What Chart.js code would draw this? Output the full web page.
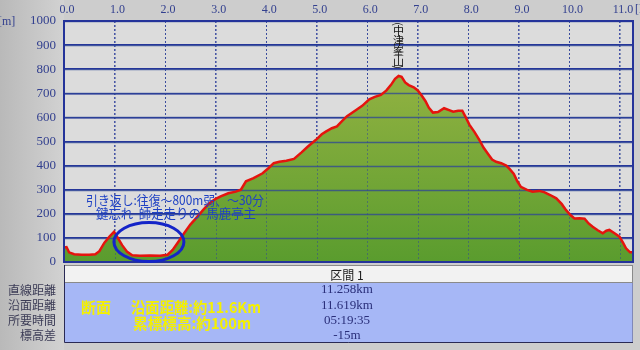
<!DOCTYPE html>
<html>
<head>
<meta charset="utf-8">
<script src="https://cdn.jsdelivr.net/npm/chart.js@4/dist/chart.umd.min.js"></script>
<style>
  html, body { margin: 0; padding: 0; background: #c9c9c9; }
  #wrap { width: 640px; height: 350px; position: relative; }
</style>
</head>
<body>
<div id="wrap"><canvas id="profile" width="640" height="350"></canvas></div>
<script>
// distance along the route (km) and elevation (m)
var distKm = [0.00, 0.05, 0.10, 0.20, 0.35, 0.50, 0.62, 0.70, 0.80, 0.90, 0.99, 1.05, 1.15, 1.25, 1.35, 1.50, 1.70, 1.90, 2.05, 2.15,
              2.25, 2.38, 2.50, 2.61, 2.75, 2.87, 3.00, 3.10, 3.25, 3.40, 3.50, 3.60, 3.75, 3.93, 4.05, 4.15, 4.26, 4.40, 4.55, 4.70,
              4.82, 4.98, 5.10, 5.18, 5.30, 5.40, 5.50, 5.60, 5.78, 5.90, 6.04, 6.15, 6.27, 6.38, 6.47, 6.55, 6.62, 6.68, 6.75, 6.82,
              6.92, 7.00, 7.08, 7.15, 7.22, 7.30, 7.40, 7.52, 7.62, 7.70, 7.80, 7.88, 7.95, 8.02, 8.12, 8.22, 8.30, 8.38, 8.47, 8.55,
              8.65, 8.75, 8.82, 8.90, 8.97, 9.04, 9.15, 9.27, 9.40, 9.50, 9.62, 9.74, 9.85, 9.93, 10.02, 10.10, 10.20, 10.30, 10.38, 10.46,
              10.56, 10.66, 10.73, 10.79, 10.90, 10.99, 11.06, 11.12, 11.20, 11.258];
var elevM  = [60, 62, 40, 32, 30, 30, 32, 45, 80, 105, 125, 105, 70, 42, 28, 26, 27, 26, 30, 50,
              80, 120, 155, 181, 215, 243, 262, 272, 285, 292, 300, 335, 348, 368, 390, 410, 416, 420, 428, 455,
              478, 506, 530, 541, 555, 563, 585, 605, 631, 648, 675, 685, 693, 712, 735, 760, 772, 768, 745, 734,
              725, 712, 690, 668, 640, 620, 622, 638, 630, 624, 628, 628, 600, 570, 540, 506, 475, 451, 425, 416,
              410, 400, 385, 365, 335, 312, 300, 292, 295, 290, 278, 264, 240, 216, 195, 181, 182, 180, 160, 146,
              132, 119, 130, 133, 118, 105, 80, 57, 40, 40];

var xTicks = [0, 1, 2, 3, 4, 5, 6, 7, 8, 9, 10, 11];
var tableRowLabels = ["直線距離", "沿面距離", "所要時間", "標高差"];
var tableValues = ["11.258km", "11.619km", "05:19:35", "-15m"];
var sectionTitle = "区間 1";
var noteLines = ["引き返し:往復～800m弱、～30分", "鍵忘れ  師走走りの  馬鹿亭主"];
var summaryLines = ["沿面距離:約11.6Km", "累標標高:約100m"];
var peakName = "中津峯山";

var points = distKm.map(function (d, i) { return { x: d, y: elevM[i] }; });

var NAVY = '#24339a';
var TICK = '#33408f';

var decor = {
  id: 'decor',
  beforeDraw: function (chart) {
    var c = chart.ctx, a = chart.chartArea;
    c.save();
    var g = c.createLinearGradient(0, 0, a.left, 0);
    g.addColorStop(0, '#b9b9b9');
    g.addColorStop(1, '#d2d2d2');
    c.fillStyle = '#cdcdcd';
    c.fillRect(0, 0, chart.width, chart.height);
    c.fillStyle = g;
    c.fillRect(0, 0, a.left, chart.height);
    c.fillStyle = '#dcdcdc';
    c.fillRect(a.left, a.top, a.right - a.left, a.bottom - a.top);
    c.restore();
  },
  beforeDatasetDraw: function (chart) {
    // grid lines show through the green fill
    var c = chart.ctx, a = chart.chartArea;
    var xs = chart.scales.x, ys = chart.scales.y;
    c.save();
    c.beginPath();
    c.rect(a.left, a.top, a.right - a.left, a.bottom - a.top);
    c.clip();
    c.strokeStyle = 'rgba(45,70,150,0.75)';
    c.lineWidth = 1.5;
    ys.ticks.forEach(function (t) {
      var y = Math.round(ys.getPixelForValue(t.value)) + 0.5;
      c.beginPath(); c.moveTo(a.left, y); c.lineTo(a.right, y); c.stroke();
    });
    c.lineWidth = 1;
    c.setLineDash([2, 2]);
    c.strokeStyle = 'rgba(45,70,150,0.5)';
    xs.ticks.forEach(function (t) {
      var x = Math.round(xs.getPixelForValue(t.value)) + 0.5;
      c.beginPath(); c.moveTo(x, a.top); c.lineTo(x, a.bottom); c.stroke();
    });
    c.restore();
  },
  afterDraw: function (chart) {
    var c = chart.ctx, a = chart.chartArea;
    var xs = chart.scales.x, ys = chart.scales.y;
    c.save();

    // plot frame
    c.strokeStyle = NAVY;
    c.lineWidth = 2;
    c.strokeRect(a.left, a.top, a.right - a.left, a.bottom - a.top);

    // unit labels
    c.fillStyle = TICK;
    c.font = '12px "Liberation Serif"';
    c.textBaseline = 'middle';
    c.textAlign = 'left';
    c.fillText('[m]', -2, 22);
    c.fillText('[km]', 635, 10);

    // peak name, written vertically
    var px = xs.getPixelForValue(6.62);
    c.fillStyle = '#111';
    c.font = '11px "Noto Sans CJK JP"';
    c.textAlign = 'center';
    c.save(); c.translate(px, 24); c.rotate(Math.PI / 2); c.fillText('(', 0, 0); c.restore();
    for (var i = 0; i < peakName.length; i++) {
      c.fillText(peakName[i], px, 31 + i * 10.3);
    }
    c.save(); c.translate(px, 67); c.rotate(Math.PI / 2); c.fillText(')', 0, 0); c.restore();

    // turn-back note
    c.fillStyle = '#1f42c4';
    c.font = '13px "Noto Sans CJK JP"';
    c.textAlign = 'left';
    c.fillText(noteLines[0], 86, 200, 178);
    c.fillText(noteLines[1], 96, 213, 160);

    // ellipse around the doubled-back section
    c.strokeStyle = '#1424c8';
    c.lineWidth = 3;
    c.beginPath();
    c.ellipse(xs.getPixelForValue(1.68), ys.getPixelForValue(83), 35, 19.5, 0, 0, Math.PI * 2);
    c.stroke();

    // table under the plot
    var tl = a.left, tr = a.right;
    c.fillStyle = '#f2f2f2';
    c.fillRect(tl, 265, tr - tl, 18);
    c.fillStyle = '#a6b7f6';
    c.fillRect(tl, 283, tr - tl, 59);
    c.strokeStyle = '#8a8a8a';
    c.lineWidth = 1;
    c.strokeRect(tl + 0.5, 265.5, tr - tl - 1, 17);
    c.strokeStyle = '#2a2a55';
    c.beginPath();
    c.moveTo(tl + 0.5, 265); c.lineTo(tl + 0.5, 342.5); c.lineTo(tr, 342.5);
    c.stroke();
    c.strokeStyle = '#8088b8';
    c.beginPath(); c.moveTo(tr - 0.5, 283); c.lineTo(tr - 0.5, 342); c.stroke();

    c.fillStyle = '#222';
    c.font = '12px "Noto Sans CJK JP"';
    c.textAlign = 'center';
    c.fillText(sectionTitle, 347, 275);

    c.fillStyle = '#3b3b55';
    c.textAlign = 'right';
    c.font = '12px "Noto Sans CJK JP"';
    tableRowLabels.forEach(function (s, k) { c.fillText(s, 56, 290 + k * 15.2); });

    c.fillStyle = '#2a2f7a';
    c.textAlign = 'center';
    c.font = '13px "Liberation Serif"';
    tableValues.forEach(function (s, k) { c.fillText(s, 347, 290 + k * 15.2); });

    c.fillStyle = '#f4f000';
    c.font = 'bold 15px "Noto Sans CJK JP"';
    c.textAlign = 'left';
    c.fillText('断面', 81, 307);
    c.fillText(summaryLines[0], 131, 307, 130);
    c.fillText(summaryLines[1], 133, 323, 118);

    c.restore();
  }
};

var ctx = document.getElementById('profile').getContext('2d');
var chart = new Chart(ctx, {
  type: 'line',
  data: {
    datasets: [{
      data: points,
      borderColor: '#e5140e',
      borderWidth: 2.5,
      pointRadius: 0,
      tension: 0,
      fill: 'origin',
      backgroundColor: function (context) {
        var a = context.chart.chartArea;
        if (!a) return '#6fa336';
        var g = context.chart.ctx.createLinearGradient(0, a.top + 70, 0, a.bottom);
        g.addColorStop(0, '#8db040');
        g.addColorStop(0.5, '#74a637');
        g.addColorStop(1, '#5a9c2e');
        return g;
      }
    }]
  },
  options: {
    responsive: false,
    animation: false,
    layout: { padding: { top: 0, left: 0, right: 7, bottom: 88 } },
    plugins: { legend: { display: false }, tooltip: { enabled: false } },
    scales: {
      x: {
        type: 'linear',
        position: 'top',
        min: 0,
        max: 11.258,
        afterFit: function (s) { s.height = 21; },
        afterBuildTicks: function (s) {
          s.ticks = xTicks.map(function (v) { return { value: v }; });
        },
        ticks: {
          padding: 4,
          labelOffset: 3,
          color: TICK,
          font: { family: 'Liberation Serif', size: 12 },
          callback: function (v) { return Number(v).toFixed(1); }
        },
        grid: { color: 'rgba(36,51,154,0.8)', lineWidth: 1, drawTicks: false },
        border: { display: false, dash: [2, 2] }
      },
      y: {
        min: 0,
        max: 1000,
        afterFit: function (s) { s.width = 64; },
        ticks: {
          stepSize: 100,
          padding: 8,
          color: TICK,
          font: { family: 'Liberation Serif', size: 13 },
          callback: function (v) { return String(v); }
        },
        grid: { color: NAVY, lineWidth: 1.5, drawTicks: false },
        border: { display: false }
      }
    }
  },
  plugins: [decor]
});
</script>
</body>
</html>
